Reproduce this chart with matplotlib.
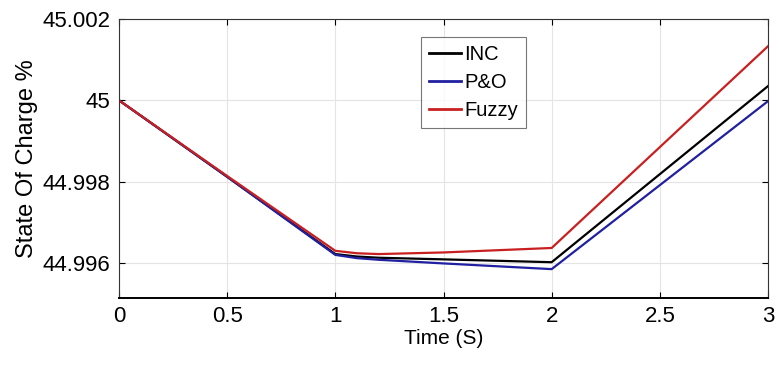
import matplotlib.pyplot as plt
import numpy as np

# Time axis (s) and state of charge (%)
t = [0, 0.5, 1.0, 1.1, 1.2, 1.5, 2.0, 3.0]
soc_inc = [45.0, 44.99812, 44.99622, 44.99616, 44.99613, 44.99609, 44.99602, 45.00035]
soc_po = [45.0, 44.99812, 44.99620, 44.99612, 44.99608, 44.99599, 44.99585, 44.99998]
soc_fuzzy = [45.0, 44.99814, 44.99630, 44.99624, 44.99622, 44.99626, 44.99637, 45.00133]

plt.rcParams['font.family'] = ['Liberation Sans', 'DejaVu Sans']

fig = plt.figure(figsize=(7.79, 3.74), dpi=100)
ax = fig.add_axes([119 / 779, 1 - 298 / 374, (768 - 119) / 779, (298 - 19) / 374])

ax.plot(t, soc_inc, color='black', lw=1.6, label='INC')
ax.plot(t, soc_po, color='#2020a0', lw=1.6, label='P&O')
ax.plot(t, soc_fuzzy, color='#c82020', lw=1.6, label='Fuzzy')

ax.set_xlim(0, 3)
ax.set_ylim(44.99514, 45.002)
ax.set_xticks(np.arange(0, 3.01, 0.5))
ax.set_xticklabels(['0', '0.5', '1', '1.5', '2', '2.5', '3'])
ax.set_yticks([44.996, 44.998, 45.0, 45.002])
ax.set_yticklabels(['44.996', '44.998', '45', '45.002'])
ax.tick_params(direction='in', top=True, right=True, labelsize=16, length=4, pad=6)
ax.grid(True, color='#e4e4e4', lw=0.8)
for s in ax.spines.values():
    s.set_color('#333333')
    s.set_linewidth(0.8)
ax.spines['bottom'].set_linewidth(1.4)
ax.spines['bottom'].set_color('black')

ax.set_xlabel('Time (S)', fontsize=15, labelpad=1)
ax.set_ylabel('State Of Charge %', fontsize=17, labelpad=3)

leg = ax.legend(loc='upper left', bbox_to_anchor=(0.465, 0.935), fontsize=14.5,
                frameon=True, fancybox=False, handlelength=1.6, handletextpad=0.15,
                borderpad=0.4, labelspacing=0.45, borderaxespad=0)
leg.get_frame().set_edgecolor('#555555')
leg.get_frame().set_linewidth(0.8)
for line in leg.get_lines():
    line.set_linewidth(2)

fig.savefig('out.png', dpi=100)
